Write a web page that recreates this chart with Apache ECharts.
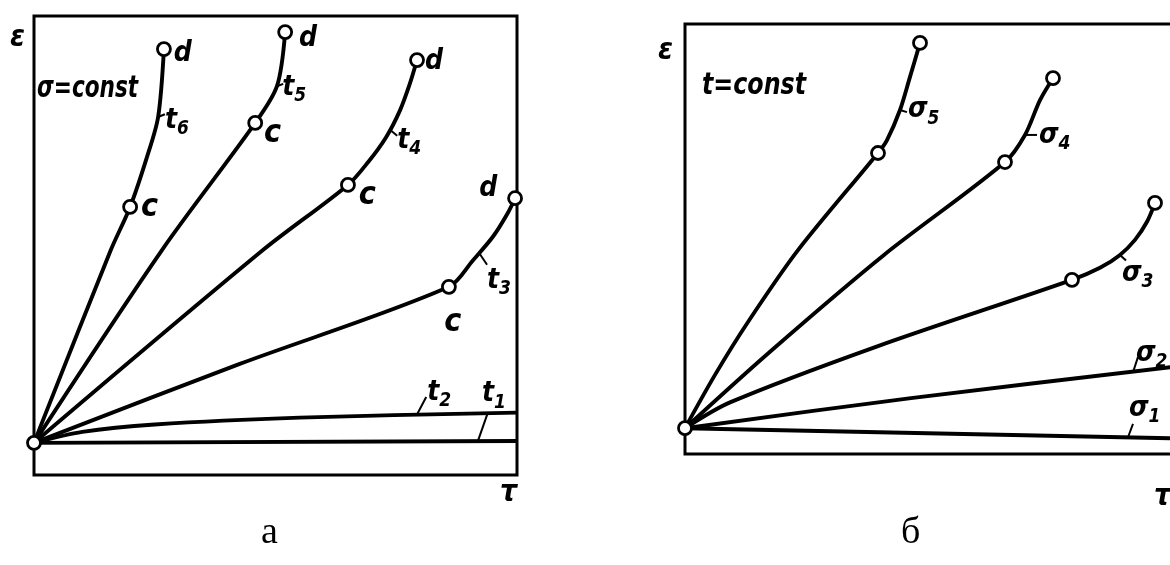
<!DOCTYPE html>
<html>
<head>
<meta charset="utf-8">
<script src="https://cdn.jsdelivr.net/npm/echarts/dist/echarts.min.js"></script>
<style>
  html, body { margin: 0; padding: 0; background: #fff; }
  #chart { width: 1170px; height: 565px; }
</style>
</head>
<body>
<div id="chart"></div>
<script>
// ---------- Panel а: creep curves ε(τ) at σ = const, temperatures t1 … t6 ----------
// Each curve: primary/secondary part ending at point c, tertiary part ending at point d.
const t6Primary  = [[0, 0], [15.9, 42.0], [19.9, 51.4]];
const t6Tertiary = [[23.4, 62.3], [25.7, 71.0], [26.9, 85.8]];
const t5Primary  = [[0, 0], [26.5, 42.0], [45.8, 69.7]];
const t5Tertiary = [[50.3, 77.7], [52.0, 89.5]];
const t4Primary  = [[0, 0], [47.4, 42.0], [65.0, 56.2]];
const t4Tertiary = [[69.2, 61.2], [72.9, 66.6], [75.8, 72.5], [77.8, 78.2], [79.3, 83.4]];
const t3Primary  = [[0, 0], [42.6, 17.2], [85.9, 34.0]];
const t3Tertiary = [[90.9, 39.8], [95.0, 44.9], [98.1, 50.1], [99.6, 53.3]];
const t2Curve    = [[0, 0], [10, 2.4], [25, 4.0], [55, 5.5], [100, 6.6]];
const t1Curve    = [[0, 0], [100, 0.4]];

// leader ticks of the curve labels (point on curve -> outer end)
const ticksA = [
  [[25.7, 71.0], [27.1, 71.6]],
  [[50.3, 77.7], [51.6, 78.2]],
  [[73.7, 68.2], [75.2, 66.9]],
  [[92.2, 41.3], [93.8, 38.8]],
  [[79.3, 6.2], [81.2, 10.0]],
  [[91.9, 0.37], [94.0, 6.7]]
];
const tickNamesA = ['6', '5', '4', '3', '2', '1'];

// ---------- Panel б: creep curves ε(τ) at t = const, stresses σ1 … σ5 ----------
const s5Primary  = [[0, 0], [6.0, 12.4], [12.6, 24.7], [22.6, 41.4], [38.6, 64.0]];
const s5Tertiary = [[40.4, 67.0], [43.0, 74.0], [45.0, 81.7], [47.0, 89.6]];
const s4Primary  = [[0, 0], [17.0, 17.8], [39.8, 40.3], [64.0, 61.9]];
const s4Tertiary = [[68.0, 68.2], [71.0, 76.3], [73.6, 81.4]];
const s3Primary  = [[0, 0], [9.0, 6.0], [38.6, 19.1], [77.4, 34.5]];
const s3Tertiary = [[83.0, 37.3], [87.0, 40.3], [90.0, 43.8], [92.4, 48.0], [94.0, 52.4]];
const s2Curve    = [[0, 0], [45.2, 7.0], [100, 14.6]];
const s1Curve    = [[0, 0], [100, -2.4]];

const ticksB = [
  [[43.0, 74.0], [44.4, 73.5]],
  [[68.0, 68.2], [70.4, 68.2]],
  [[87.0, 40.3], [88.2, 39.0]],
  [[89.6, 13.0], [90.6, 16.6]],
  [[88.6, -2.1], [89.6, 1.0]]
];
const tickNamesB = ['5', '4', '3', '2', '1'];

// ---------- styling ----------
const HAND = "'DejaVu Sans Condensed', 'Liberation Sans Narrow', 'DejaVu Sans', sans-serif";
const SERIF = "'Liberation Serif', 'DejaVu Serif', serif";
const INK = '#000';
const CURVE_W = 3.9;
const R = 13; // marker circle diameter

// label placement of the curve names (relative to tick outer end)
const tickLabelOffsetA = [[0, 6], [-1, 4], [0, 5], [0, 16], [1, -4], [-6, -18]];
const tickLabelOffsetB = [[1, -2], [2, 1], [-4, 13], [-2, -3], [-4, -15]];
// labels of c / d points: [position, offset]
const cLabelA = [['right', [3, 1]], ['right', [1, 11]], ['right', [3, 11]], ['bottom', [4, 12]]];
const dLabelA = [['right', [2, 5]], ['right', [6, 7]], ['right', [0, 2]], ['left', [-10, -10]]];

const richText = {
  m: { fontFamily: HAND, fontStyle: 'italic', fontWeight: 'bold', fontSize: 28, lineHeight: 36, color: INK, verticalAlign: 'middle' },
  s: { fontFamily: HAND, fontStyle: 'italic', fontWeight: 'bold', fontSize: 19, lineHeight: 36, color: INK, verticalAlign: 'bottom' }
};

function curve(points, gi) {
  return {
    type: 'line', xAxisIndex: gi, yAxisIndex: gi, data: points,
    smooth: 0.3, symbol: 'none', silent: true, z: 3,
    lineStyle: { color: INK, width: CURVE_W }
  };
}
function tickLine(seg, gi) {
  return {
    type: 'line', xAxisIndex: gi, yAxisIndex: gi, data: seg,
    symbol: 'none', silent: true, z: 3,
    lineStyle: { color: INK, width: 2 }
  };
}
function tickLabels(ticks, names, offsets, letter, gi) {
  return {
    type: 'scatter', xAxisIndex: gi, yAxisIndex: gi, symbolSize: 0, silent: true, clip: false, z: 5,
    itemStyle: { opacity: 1 },
    data: ticks.map((t, i) => ({
      value: t[1],
      label: {
        show: true, position: 'right', distance: 0, offset: offsets[i], opacity: 1,
        formatter: '{m|' + letter + '}{s|' + names[i] + '}', rich: richText
      }
    }))
  };
}
function markers(points, gi, letter, placing) {
  return {
    type: 'scatter', xAxisIndex: gi, yAxisIndex: gi, symbol: 'circle', symbolSize: R,
    silent: true, clip: false, z: 6,
    itemStyle: { color: '#fff', borderColor: INK, borderWidth: 2.8, opacity: 1 },
    data: points.map((p, i) => ({
      value: p,
      label: placing ? {
        show: true, formatter: letter, position: placing[i][0], distance: 0, offset: placing[i][1],
        fontFamily: HAND, fontStyle: 'italic', fontWeight: 'bold',
        fontSize: letter === 'c' ? 32 : 28, color: INK
      } : { show: false }
    }))
  };
}
const last = a => a[a.length - 1];

const primA = [t6Primary, t5Primary, t4Primary, t3Primary];
const tertA = [t6Tertiary, t5Tertiary, t4Tertiary, t3Tertiary];
const primB = [s5Primary, s4Primary, s3Primary];
const tertB = [s5Tertiary, s4Tertiary, s3Tertiary];

const series = [];
primA.forEach((p, i) => series.push(curve(p.concat(tertA[i]), 0)));
series.push(curve(t2Curve, 0), curve(t1Curve, 0));
primB.forEach((p, i) => series.push(curve(p.concat(tertB[i]), 1)));
series.push(curve(s2Curve, 1), curve(s1Curve, 1));
ticksA.forEach(t => series.push(tickLine(t, 0)));
ticksB.forEach(t => series.push(tickLine(t, 1)));
series.push(tickLabels(ticksA, tickNamesA, tickLabelOffsetA, 't', 0));
series.push(tickLabels(ticksB, tickNamesB, tickLabelOffsetB, 'σ', 1));
series.push(markers(primA.map(last), 0, 'c', cLabelA));
series.push(markers(tertA.map(last), 0, 'd', dLabelA));
series.push(markers([[0, 0]], 0, '', null));
series.push(markers(primB.map(last).concat(tertB.map(last), [[0, 0]]), 1, '', null));

const textStyle = (size, family, italic, bold) => ({
  fontSize: size, fontFamily: family, fontStyle: italic ? 'italic' : 'normal',
  fontWeight: bold ? 'bold' : 'normal', fill: INK
});

const option = {
  animation: false,
  backgroundColor: '#fff',
  grid: [
    { left: 34, top: 16, width: 483, height: 459, show: true, borderColor: INK, borderWidth: 3,
      backgroundColor: 'transparent', outerBoundsMode: 'none' },
    { left: 685, top: 24, width: 500, height: 430, show: true, borderColor: INK, borderWidth: 3,
      backgroundColor: 'transparent', outerBoundsMode: 'none' }
  ],
  xAxis: [
    { gridIndex: 0, type: 'value', min: 0, max: 100, show: false },
    { gridIndex: 1, type: 'value', min: 0, max: 100, show: false }
  ],
  yAxis: [
    { gridIndex: 0, type: 'value', min: -7, max: 93, show: false },
    { gridIndex: 1, type: 'value', min: -6, max: 94, show: false }
  ],
  graphic: [
    { type: 'text', left: 10, top: 23, style: Object.assign({ text: 'ε' }, textStyle(30, HAND, true, true)) },
    { type: 'text', x: 37, y: 74, scaleX: 0.8, style: Object.assign({ text: 'σ=const' }, textStyle(30, HAND, true, true)) },
    { type: 'text', left: 500, top: 478, style: Object.assign({ text: 'τ' }, textStyle(30, HAND, true, true)) },
    { type: 'text', left: 658, top: 36, style: Object.assign({ text: 'ε' }, textStyle(30, HAND, true, true)) },
    { type: 'text', x: 702, y: 71, scaleX: 0.88, style: Object.assign({ text: 't=const' }, textStyle(30, HAND, true, true)) },
    { type: 'text', left: 1154, top: 482, style: Object.assign({ text: 'τ' }, textStyle(30, HAND, true, true)) },
    { type: 'text', left: 261, top: 514, style: Object.assign({ text: 'а' }, textStyle(38, SERIF, false, false)) },
    { type: 'text', left: 901, top: 514, style: Object.assign({ text: 'б' }, textStyle(38, SERIF, false, false)) }
  ],
  series: series
};

const chart = echarts.init(document.getElementById('chart'), null, { renderer: 'canvas' });
chart.setOption(option);
</script>
</body>
</html>
